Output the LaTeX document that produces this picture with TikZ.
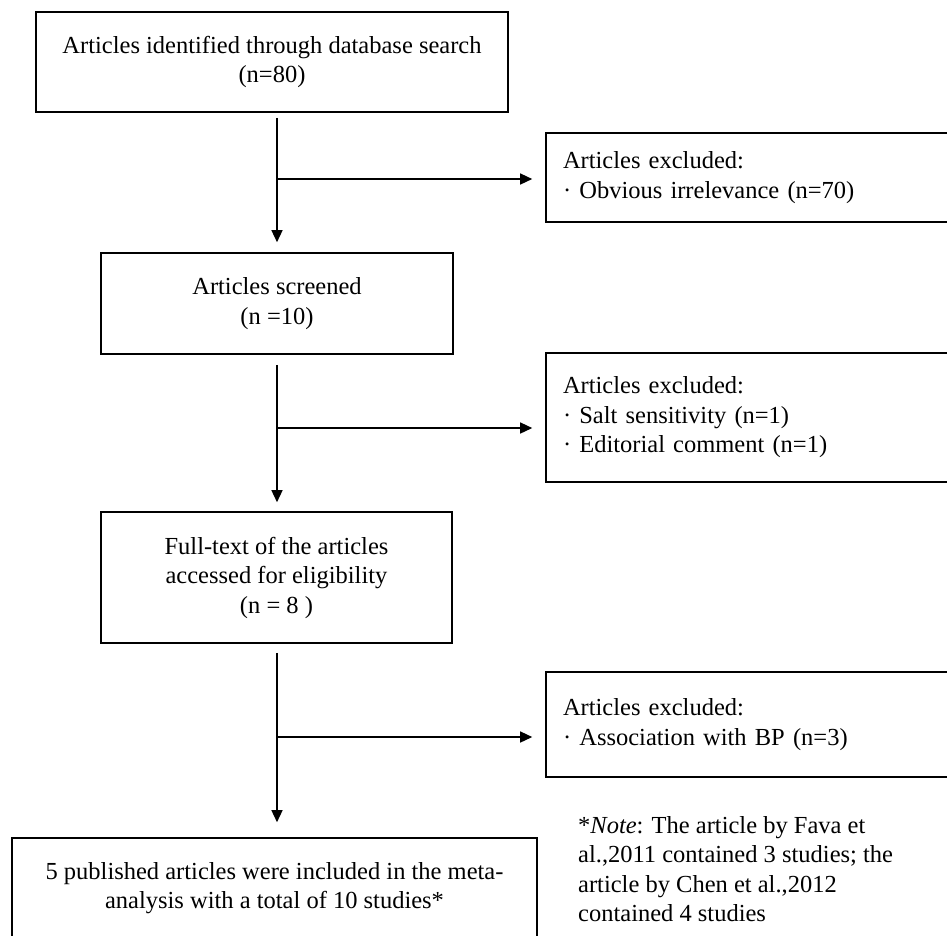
\documentclass[tikz,border=0pt]{standalone}
\usepackage{fontspec}
\setmainfont{Liberation Serif}
\usetikzlibrary{arrows.meta}
\begin{document}
\begin{tikzpicture}[x=1pt,y=-1pt,
  txt/.style={font=\fontsize{24.5}{29.5}\selectfont},
  mainbox/.style={txt,draw,line width=1.6pt,align=center,inner sep=0pt},
  exbox/.style={txt,draw,line width=1.6pt,align=left,inner xsep=17pt,inner ysep=0pt,
    minimum width=420pt,text width=386pt},
  conn/.style={line width=1.4pt,-{Triangle[length=12pt,width=11pt]}},
  plain/.style={line width=1.4pt}]
\clip (0,0) rectangle (947,935);
\fill[white] (0,0) rectangle (947,935);
% main boxes
\node[mainbox,minimum width=472pt,minimum height=100pt] (a1) at (272,62)
  {Articles identified through database search\\(n=80)};
\node[mainbox,minimum width=352pt,minimum height=101pt] (a2) at (277,303.5)
  {Articles screened\\(n =10)};
\node[mainbox,minimum width=351pt,minimum height=131pt] (a3) at (276.5,577.5)
  {Full-text of the articles\\accessed for eligibility\\(n = 8 )};
\node[mainbox,minimum width=525pt,minimum height=100pt] (a4) at (274.5,888)
  {5 published articles were included in the meta-\\analysis with a total of 10 studies*};
% exclusion boxes
\node[exbox,minimum height=89pt] (e1) at (756,177.5)
  {Articles excluded:\\\textperiodcentered\ Obvious irrelevance (n=70)};
\node[exbox,minimum height=129pt] (e2) at (756,417.5)
  {Articles excluded:\\\textperiodcentered\ Salt sensitivity (n=1)\\\textperiodcentered\ Editorial comment (n=1)};
\node[exbox,minimum height=105pt] (e3) at (756,724.5)
  {Articles excluded:\\\textperiodcentered\ Association with BP (n=3)};
% note
\node[txt,anchor=north west,align=left,inner sep=0pt] (note) at (578,816)
  {*\textit{Note}: The article by Fava et\\al.,2011 contained 3 studies; the\\article by Chen et al.,2012\\contained 4 studies};
% connectors
\coordinate (j1) at (277,179);
\coordinate (j2) at (277,428);
\coordinate (j3) at (277,737);
\draw[conn,shorten <=5pt,shorten >=10pt] (a2.north |- a1.south) -- (a2.north);
\draw[conn,shorten <=10pt,shorten >=9pt] (a2.south) -- (a2.south |- a3.north);
\draw[conn,shorten <=9pt,shorten >=15pt] (a2.south |- a3.south) -- (a2.south |- a4.north);
\draw[conn,shorten >=13pt] (j1) -- (j1 -| e1.west);
\draw[conn,shorten >=13pt] (j2) -- (j2 -| e2.west);
\draw[conn,shorten >=13pt] (j3) -- (j3 -| e3.west);
\end{tikzpicture}
\end{document}
